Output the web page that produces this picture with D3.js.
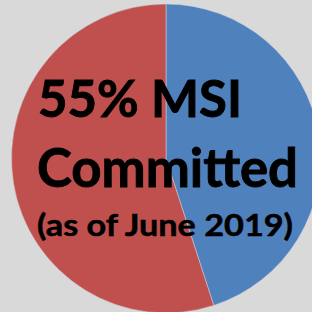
<!DOCTYPE html>
<html>
<head>
<meta charset="utf-8">
<script src="https://cdn.jsdelivr.net/npm/d3@7"></script>
<style>
  html, body { margin: 0; padding: 0; background: #d9d9d9; }
  svg { display: block; }
</style>
</head>
<body>
<div id="chart"></div>
<script>
// pie data (blue first, clockwise from 12 o'clock)
var categories = ["Not committed", "MSI committed"];
var values = [45, 55];
var colors = ["#4f81bd", "#c0504d"];

// overlay text lines
var titleLines = ["55% MSI", "Committed", "(as of June 2019)"];

var width = 312;
var height = 312;
var cx = 166;
var cy = 158.5;
var radius = 154.5;

var svg = d3.select("#chart").append("svg")
    .attr("width", width)
    .attr("height", height);

svg.append("rect")
    .attr("width", width)
    .attr("height", height)
    .attr("fill", "#d9d9d9");

var pie = d3.pie().sort(null).value(function(d) { return d; });
var arc = d3.arc().innerRadius(0).outerRadius(radius);

var color = d3.scaleOrdinal().domain(categories).range(colors);

svg.append("g")
    .attr("transform", "translate(" + cx + "," + cy + ")")
  .selectAll("path")
    .data(pie(values))
  .enter().append("path")
    .attr("d", arc)
    .attr("fill", function(d, i) { return color(categories[i]); })
    .attr("stroke", "#d0d4dc")
    .attr("stroke-width", 0.5);

// big label on top of the pie
var lineSpecs = [
  { x: 38, y: 117, size: 52, len: 204 },
  { x: 37, y: 187, size: 53, len: 261 },
  { x: 37, y: 236, size: 30, len: 256 }
];

svg.selectAll("text.title")
    .data(titleLines)
  .enter().append("text")
    .attr("class", "title")
    .attr("x", function(d, i) { return lineSpecs[i].x; })
    .attr("y", function(d, i) { return lineSpecs[i].y; })
    .attr("font-family", "Lato, 'Open Sans', sans-serif")
    .attr("font-weight", "bold")
    .attr("font-size", function(d, i) { return lineSpecs[i].size; })
    .attr("textLength", function(d, i) { return lineSpecs[i].len; })
    .attr("lengthAdjust", "spacingAndGlyphs")
    .attr("fill", "#000")
    .attr("stroke", "#000")
    .attr("stroke-width", function(d, i) { return i < 2 ? 0.9 : 0.5; })
    .text(function(d) { return d; });
</script>
</body>
</html>
